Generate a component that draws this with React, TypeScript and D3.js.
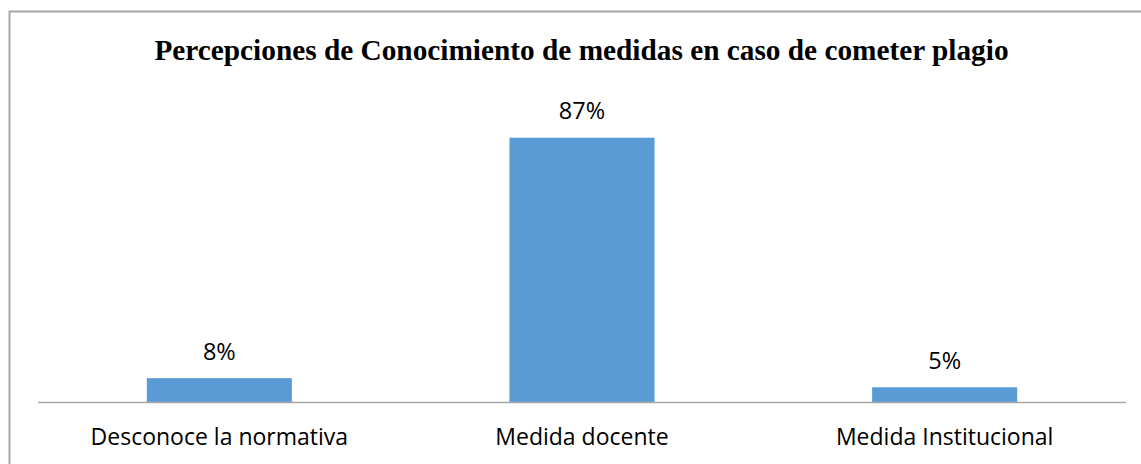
import React from "react";
import * as d3 from "d3";

const categories = ["Desconoce la normativa", "Medida docente", "Medida Institucional"];
const values = [8, 87, 5];
const valueLabels = ["8%", "87%", "5%"];
const title = "Percepciones de Conocimiento de medidas en caso de cometer plagio";

const W = 1141;
const H = 464;

export default function App() {
  const x = d3.scaleBand<string>().domain(categories).range([38, 1126]).paddingInner(0.6).paddingOuter(0.3);
  const y = d3.scaleLinear().domain([0, 87]).range([402.5, 137.7]);
  const labelFont = "'Open Sans', 'Noto Sans', sans-serif";
  return (
    <div style={{ position: "absolute", left: 0, top: 0 }}>
      <svg width={W} height={H} style={{ display: "block", background: "#fff" }}>
        <path d={`M9.5,${H} V11.5 H${W}`} fill="none" stroke="#a6a6a6" strokeWidth={2} />
        <text x={581.5} y={60} textAnchor="middle" fontFamily="'Liberation Serif', 'Times New Roman', serif" fontWeight="bold" fontSize={29.3} fill="#000">
          {title}
        </text>
        {categories.map((c, i) => (
          <rect key={c} x={x(c)} y={y(values[i])} width={x.bandwidth()} height={y(0) - y(values[i])} fill="#5b9bd5" />
        ))}
        <line x1={38} x2={1126} y1={y(0)} y2={y(0)} stroke="#a6a6a6" strokeWidth={1.5} />
        {categories.map((c, i) => (
          <text key={"v" + c} x={(x(c) as number) + x.bandwidth() / 2} y={y(values[i]) - 18.4} textAnchor="middle" fontFamily={labelFont} fontSize={23.5} fill="#000">
            {valueLabels[i]}
          </text>
        ))}
        {categories.map((c) => (
          <text key={"c" + c} x={(x(c) as number) + x.bandwidth() / 2} y={445} textAnchor="middle" fontFamily={labelFont} fontSize={23} fill="#000">
            {c}
          </text>
        ))}
      </svg>
    </div>
  );
}
